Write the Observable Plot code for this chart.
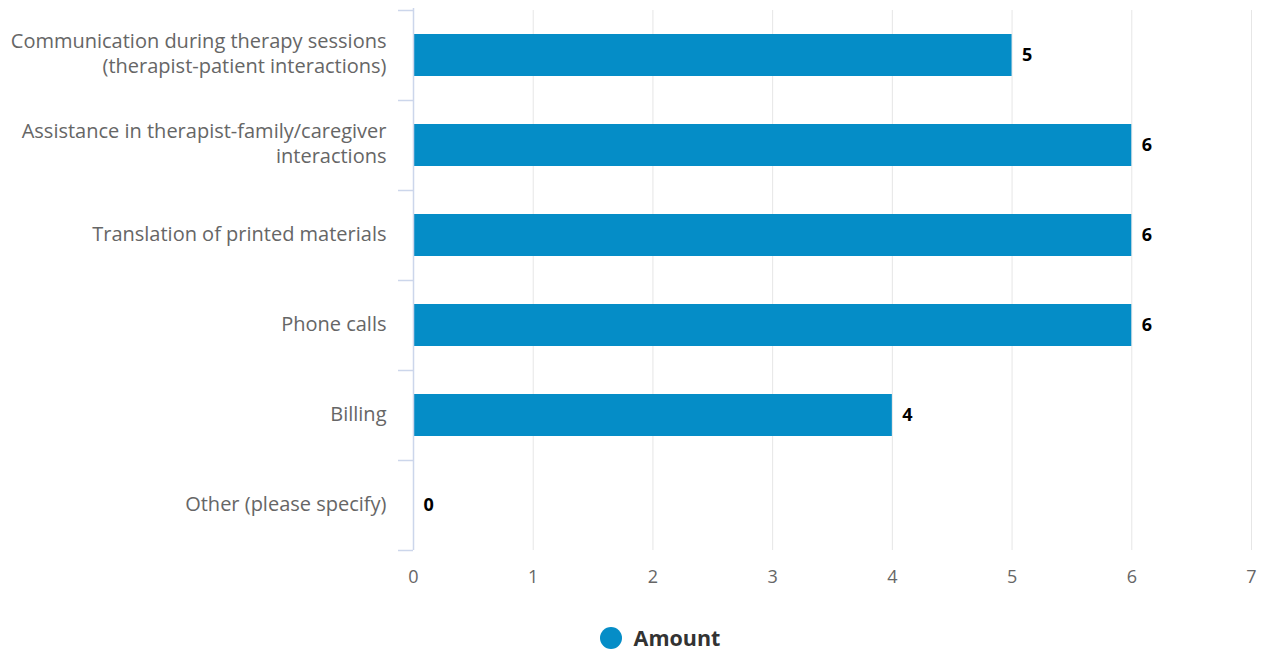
<!DOCTYPE html>
<html>
<head>
<meta charset="utf-8">
<script src="https://cdn.jsdelivr.net/npm/d3@7"></script>
<script src="https://cdn.jsdelivr.net/npm/@observablehq/plot@0.6"></script>
<style>
  html, body { margin: 0; padding: 0; background: #fff; }
  body { width: 1268px; height: 653px; overflow: hidden; font-family: "Open Sans", sans-serif; }
  #legend { display: flex; justify-content: center; align-items: center; height: 43px; padding-left: 52px; margin-top: 6px; }
  #legend .dot { width: 22px; height: 22px; border-radius: 50%; background: #058dc7; margin-right: 12px; }
  #legend .lbl { font-weight: 700; font-size: 21.5px; color: #333; }
</style>
</head>
<body>
<div id="chart"></div>
<div id="legend"><span class="dot"></span><span class="lbl">Amount</span></div>
<script>
const categories = [
  "Communication during therapy sessions (therapist-patient interactions)",
  "Assistance in therapist-family/caregiver interactions",
  "Translation of printed materials",
  "Phone calls",
  "Billing",
  "Other (please specify)"
];
const tickLabels = [
  "Communication during therapy sessions\n(therapist-patient interactions)",
  "Assistance in therapist-family/caregiver\ninteractions",
  "Translation of printed materials",
  "Phone calls",
  "Billing",
  "Other (please specify)"
];
const amounts = [5, 6, 6, 6, 4, 0];
const xTicks = [0, 1, 2, 3, 4, 5, 6, 7];

const data = categories.map((c, i) => ({category: c, amount: amounts[i]}));
const labelOf = new Map(categories.map((c, i) => [c, tickLabels[i]]));

const W = 1268, H = 610;
const mL = 413, mR = 17, mT = 10, mB = 60;
const band = (H - mT - mB) / categories.length;

const chart = Plot.plot({
  width: W,
  height: H,
  marginLeft: mL,
  marginRight: mR,
  marginTop: mT,
  marginBottom: mB,
  style: {fontFamily: "'Open Sans', sans-serif", background: "#fff"},
  x: {domain: [0, 7], ticks: xTicks},
  y: {domain: categories, padding: 0},
  marks: [
    Plot.gridX(xTicks.filter(d => d > 0), {stroke: "#e6e6e6", strokeOpacity: 1}),
    Plot.barX(data, {x: "amount", y: "category", fill: "#058dc7", insetTop: 24, insetBottom: 24}),
    Plot.ruleX([0], {stroke: "#ccd6eb", strokeWidth: 1.5, insetTop: -2}),
    Plot.ruleY(categories, {y: d => d, dy: -band / 2, stroke: "#ccd6eb", strokeWidth: 1.5, dx: -15, insetRight: W - mL - mR - 15}),
    Plot.ruleY(categories.slice(-1), {y: d => d, dy: band / 2, stroke: "#ccd6eb", strokeWidth: 1.5, dx: -15, insetRight: W - mL - mR - 15}),
    Plot.text(data, {x: "amount", y: "category", text: d => String(d.amount), textAnchor: "start", dx: 10, fontWeight: 700, fontSize: 18, fill: "#000"}),
    Plot.axisX({ticks: xTicks, tickSize: 0, tickPadding: 20, fontSize: 18, color: "#666", label: null, tickFormat: d3.format("d")}),
    Plot.axisY({tickSize: 0, tickPadding: 27, dy: -3, fontSize: 20, color: "#666", label: null, tickFormat: d => labelOf.get(d), lineHeight: 1.25})
  ]
});
document.getElementById("chart").appendChild(chart);
</script>
</body>
</html>
